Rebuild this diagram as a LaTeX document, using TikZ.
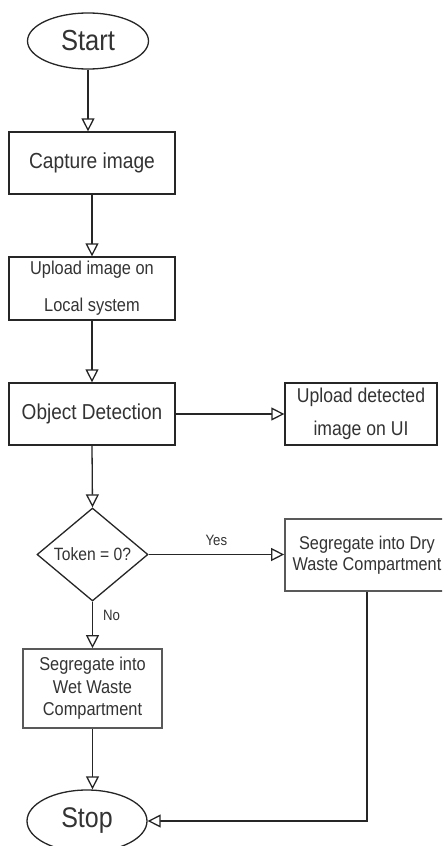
\documentclass[tikz,border=0pt]{standalone}
\usepackage{fontspec}
\setmainfont{Liberation Sans}[FakeStretch=0.88]
\usetikzlibrary{shapes.geometric,arrows.meta}

\tikzset{
  line/.style={draw=black!85, line width=1.3pt},
  flow/.style={line, -{Triangle[open, length=13pt, width=13pt, fill=white]}},
  term/.style={ellipse, line, inner sep=0pt, text=black!80},
  proc/.style={rectangle, line, inner sep=0pt, text=black!80, align=center},
  proc2/.style={rectangle, draw=black!65, line width=1.7pt, inner sep=0pt, text=black!80, align=center},
  decision/.style={diamond, line, inner sep=0pt, shape aspect=1.17, text=black!80},
  lbl/.style={text=black!80, inner sep=0pt, font=\fontsize{15}{18}\selectfont},
}

\begin{document}
\begin{tikzpicture}[x=1pt, y=-1pt]
  \useasboundingbox (0,0) rectangle (442,846);
  \clip (0,0) rectangle (442,846);
  \fill[white] (0,0) rectangle (442,846);

  \node[term, minimum width=121pt, minimum height=56pt,
        font=\fontsize{29}{32}\selectfont] (start) at (88,41) {Start};
  \node[proc, minimum width=166pt, minimum height=62pt,
        font=\fontsize{21.8}{26}\selectfont] (capture) at (92,163) {Capture image};
  \node[proc, minimum width=166pt, minimum height=63pt,
        font=\fontsize{18.6}{37}\selectfont] (upload) at (92,288.5) {Upload image on\\Local system};
  \node[proc, minimum width=166pt, minimum height=62pt,
        font=\fontsize{21.6}{26}\selectfont] (detect) at (92,414) {Object Detection};
  \node[proc, minimum width=152pt, minimum height=62pt,
        font=\fontsize{20}{33}\selectfont] (showui) at (361,414) {Upload detected\\image on UI};
  \node[decision, minimum width=111pt, minimum height=93pt,
        font=\fontsize{17.8}{20}\selectfont] (token) at (92.5,554.5) {Token = 0?};
  \node[proc2, minimum width=164pt, minimum height=72pt,
        font=\fontsize{18.5}{21.5}\selectfont] (dry) at (367,555) {Segregate into Dry\\Waste Compartment};
  \node[proc2, minimum width=139pt, minimum height=79pt,
        font=\fontsize{18.6}{22.5}\selectfont] (wet) at (92.5,688.5) {Segregate into\\Wet Waste\\Compartment};
  \node[term, minimum width=120pt, minimum height=62pt,
        font=\fontsize{28.4}{32}\selectfont] (stop) at (87,821) {Stop};

  \draw[flow] (start) -- (start |- capture.north);
  \draw[flow] (capture) -- (upload);
  \draw[flow] (upload) -- (detect);
  \draw[flow] (detect) -- (showui);
  \draw[flow] (detect.south) -- (token.north);
  \draw[flow] (token.east) -- node[lbl, above=8pt] (yes) {Yes} (dry.west |- token.east);
  \draw[flow] (token.south) -- node[lbl, pos=0.3, right=10pt] (no) {No} (wet.north);
  \draw[flow] (wet) -- (wet.south |- stop.north);
  \draw[flow] (dry.south) |- (stop.east);
\end{tikzpicture}
\end{document}
